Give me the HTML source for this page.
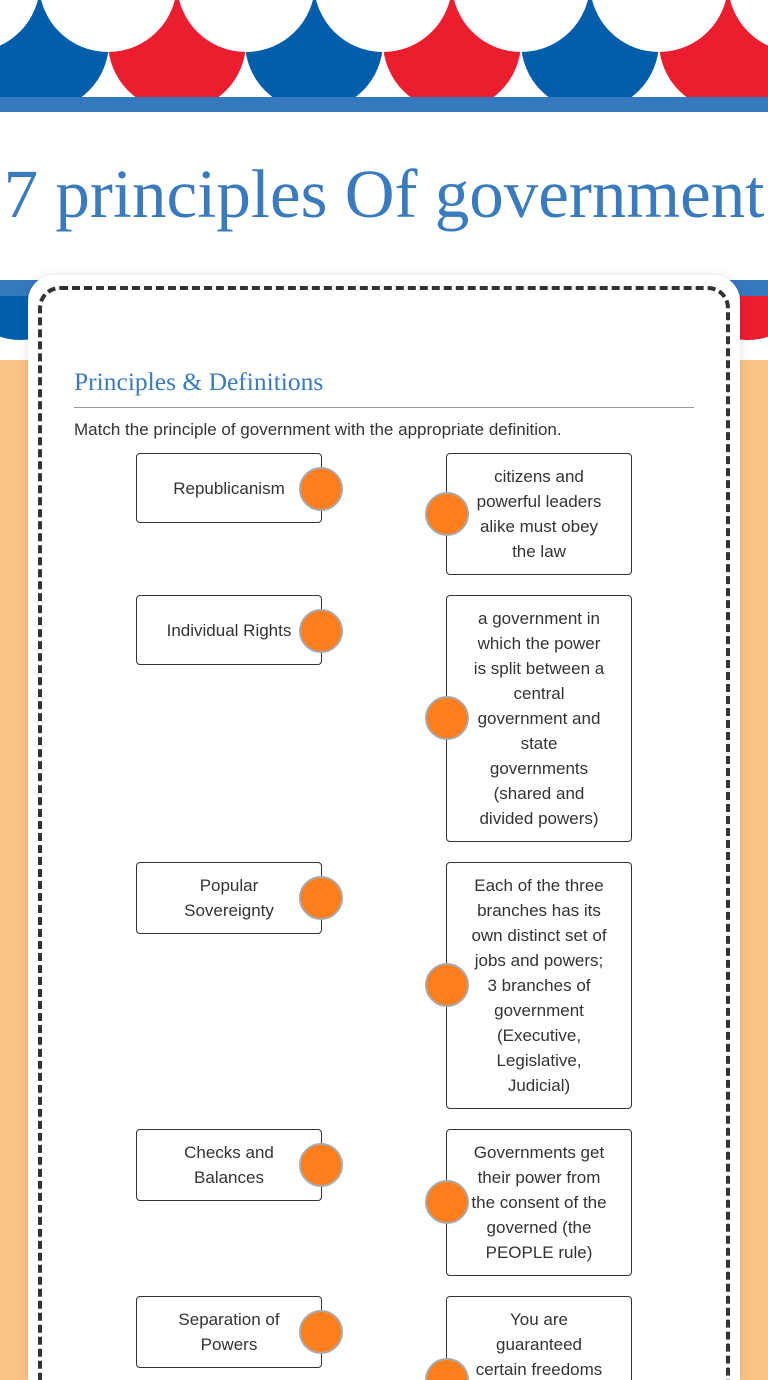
<!DOCTYPE html>
<html><head><meta charset="utf-8"><style>
html,body{margin:0;width:768px;height:1380px;overflow:hidden;}
body{position:relative;background:#fff;font-family:"Liberation Sans",sans-serif;}
#wrap{position:absolute;left:0;top:0;width:768px;height:1380px;overflow:hidden}
.abs{position:absolute}
.title{position:absolute;left:0;width:768px;top:155px;text-align:center;font-family:"Liberation Serif",serif;font-size:69px;color:#3a7bbf;white-space:nowrap;}
.card{position:absolute;left:28px;top:275px;width:712px;height:1105px;background:#fff;border-radius:26px 26px 0 0;box-shadow:0 0 10px rgba(0,0,0,0.12);}
.dash{position:absolute;left:38px;top:286px;width:684px;height:1094px;border:4px dashed #333;border-bottom:none;border-radius:22px 22px 0 0;}
.h{position:absolute;left:74px;top:367px;font-family:"Liberation Serif",serif;font-size:25.5px;color:#3a7bbf;}
.line{position:absolute;left:74px;top:407px;width:620px;height:1px;background:#999}
.ins{position:absolute;left:74px;top:420px;font-size:17px;color:#333}
.box{position:absolute;border:1px solid #333;border-radius:4px;background:#fff;text-align:center;font-size:17px;line-height:25px;color:#333;box-sizing:border-box;padding-top:10px;white-space:nowrap}
.l{left:136px;width:186px;display:flex;align-items:center;justify-content:center;padding:0}
.r{left:446px;width:186px}
.dot{position:absolute;width:44px;height:44px;border-radius:50%;background:#fd7e1c;border:2px solid #aaa;box-sizing:border-box}
</style></head><body><div id="wrap">
<svg class="abs" style="left:0;top:0" width="768" height="112">
<g>
<circle cx="40" cy="42" r="69" fill="#025eab"/>
<circle cx="177" cy="42" r="69" fill="#ed1d30"/>
<circle cx="314" cy="42" r="69" fill="#025eab"/>
<circle cx="452" cy="42" r="69" fill="#ed1d30"/>
<circle cx="590" cy="42" r="69" fill="#025eab"/>
<circle cx="728" cy="42" r="69" fill="#ed1d30"/>
</g>
<g fill="#fff">
<circle cx="-29" cy="-17" r="69"/><circle cx="108" cy="-17" r="69"/><circle cx="246" cy="-17" r="69"/><circle cx="383" cy="-17" r="69"/><circle cx="521" cy="-17" r="69"/><circle cx="659" cy="-17" r="69"/><circle cx="797" cy="-17" r="69"/>
</g>
<rect x="0" y="97" width="768" height="15" fill="#3478be"/>
</svg>
<div class="title">7 principles Of government</div>
<svg class="abs" style="left:0;top:280" width="768" height="1100">
<rect x="0" y="80" width="768" height="1020" fill="#f7c486"/>
<rect x="0" y="0" width="768" height="80" fill="#fff"/>
<circle cx="20" cy="0" r="60" fill="#025eab"/>
<circle cx="748" cy="0" r="60" fill="#ed1d30"/>
<rect x="0" y="0" width="768" height="16" fill="#3478be"/>
</svg>
<div class="card"></div>
<div class="dash"></div>
<div class="h">Principles &amp; Definitions</div>
<div class="line"></div>
<div class="ins">Match the principle of government with the appropriate definition.</div>

<div class="box l" style="top:453px;height:70px">Republicanism</div>
<div class="box r" style="top:453px;height:122px">citizens and<br>powerful leaders<br>alike must obey<br>the law</div>
<div class="dot" style="left:299px;top:467px"></div>
<div class="dot" style="left:425px;top:492px"></div>

<div class="box l" style="top:595px;height:70px">Individual Rights</div>
<div class="box r" style="top:595px;height:247px">a government in<br>which the power<br>is split between a<br>central<br>government and<br>state<br>governments<br>(shared and<br>divided powers)</div>
<div class="dot" style="left:299px;top:609px"></div>
<div class="dot" style="left:425px;top:696px"></div>

<div class="box l" style="top:862px;height:72px">Popular<br>Sovereignty</div>
<div class="box r" style="top:862px;height:247px">Each of the three<br>branches has its<br>own distinct set of<br>jobs and powers;<br>3 branches of<br>government<br>(Executive,<br>Legislative,<br>Judicial)</div>
<div class="dot" style="left:299px;top:876px"></div>
<div class="dot" style="left:425px;top:963px"></div>

<div class="box l" style="top:1129px;height:72px">Checks and<br>Balances</div>
<div class="box r" style="top:1129px;height:147px">Governments get<br>their power from<br>the consent of the<br>governed (the<br>PEOPLE rule)</div>
<div class="dot" style="left:299px;top:1143px"></div>
<div class="dot" style="left:425px;top:1180px"></div>

<div class="box l" style="top:1296px;height:72px">Separation of<br>Powers</div>
<div class="box r" style="top:1296px;height:84px;border-bottom:none;border-radius:4px 4px 0 0">You are<br>guaranteed<br>certain freedoms</div>
<div class="dot" style="left:425px;top:1358px;height:22px;border-radius:22px 22px 0 0;border-bottom:none"></div>
<div class="dot" style="left:299px;top:1310px"></div>
</div></body></html>
